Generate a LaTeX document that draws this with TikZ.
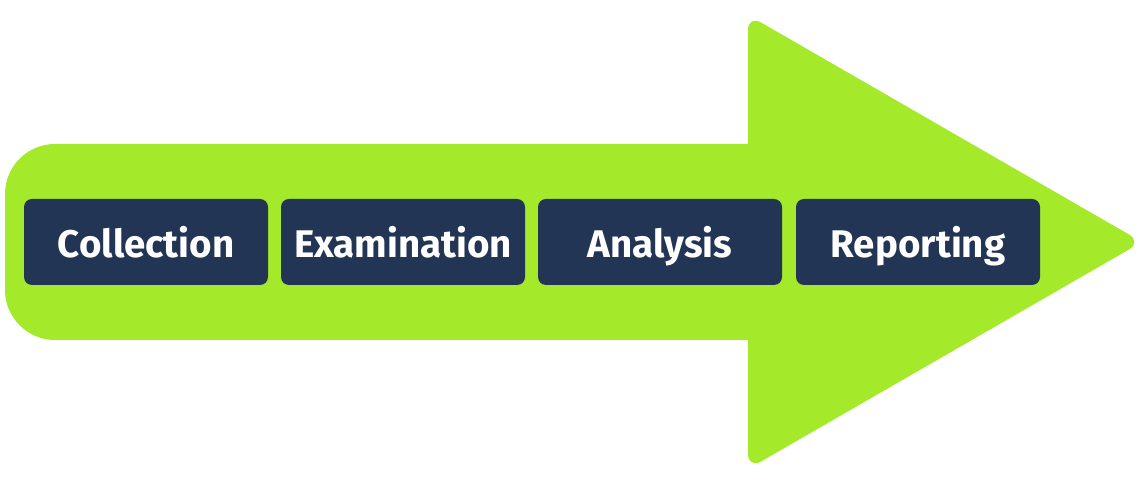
\documentclass[tikz,border=0pt]{standalone}
\usepackage{fontspec}
\setmainfont{Fira Sans}
\definecolor{arrowgreen}{HTML}{A4EA2B}
\definecolor{boxnavy}{HTML}{233554}
\tikzset{
  stage/.style={fill=boxnavy, rounded corners=8pt, minimum width=244pt, minimum height=86pt,
    inner sep=0pt, text=white, text height=34pt, text depth=2pt,
    font=\fontsize{38.5}{42}\selectfont\bfseries},
}
\begin{document}
\begin{tikzpicture}[x=1pt,y=1pt]
\useasboundingbox (0,0) rectangle (1140,486);
\fill[arrowgreen, rounded corners=50pt] (5,146) rectangle (800,342);
\fill[arrowgreen, rounded corners=15pt] (748,471) -- (1142,244) -- (748,17) -- cycle;
\node[stage] (c) at (146,244) {Collection};
\node[stage] (e) at (403,244) {Examination};
\node[stage] (a) at (660,244) {Analysis};
\node[stage] (r) at (918,244) {Reporting};
\end{tikzpicture}
\end{document}
